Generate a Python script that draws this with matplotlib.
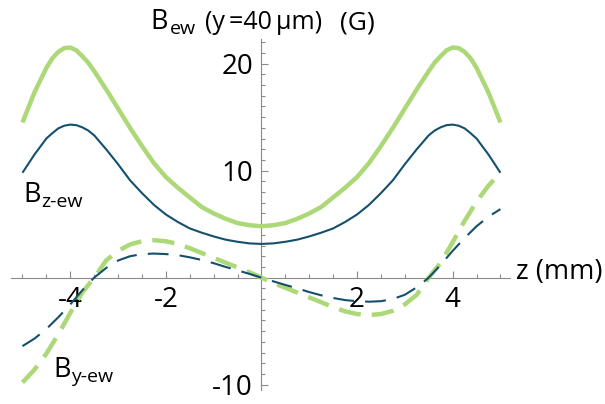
import matplotlib
matplotlib.use("Agg")
import matplotlib.pyplot as plt
from matplotlib.ticker import FixedLocator, MultipleLocator, FixedFormatter

plt.rcParams['font.family'] = ['Open Sans', 'DejaVu Sans']
plt.rcParams['axes.unicode_minus'] = False
plt.rcParams['lines.scale_dashes'] = False

# ---- data ----
z = [-5.0, -4.75, -4.5, -4.375, -4.25, -4.125, -4.0, -3.875, -3.75, -3.625, -3.5,
     -3.25, -3.0, -2.75, -2.5, -2.25, -2.0, -1.75, -1.5, -1.25, -1.0, -0.75,
     -0.5, -0.25, 0.0, 0.25, 0.5, 0.75, 1.0, 1.25, 1.5, 1.75, 2.0, 2.25, 2.5,
     2.75, 3.0, 3.25, 3.5, 3.625, 3.75, 3.875, 4.0, 4.125, 4.25, 4.375, 4.5, 4.75, 5.0]

b_total_green = [14.5, 17.3, 19.6, 20.5, 21.1, 21.45, 21.5, 21.25, 20.7, 20.1, 19.3,
                 17.6, 15.8, 14.0, 12.3, 10.7, 9.4, 8.4, 7.5, 6.6, 6.0, 5.5,
                 5.1, 4.9, 4.8, 4.9, 5.1, 5.5, 6.0, 6.6, 7.5, 8.4, 9.4, 10.7, 12.3,
                 14.0, 15.8, 17.6, 19.3, 20.1, 20.7, 21.25, 21.5, 21.45, 21.1, 20.5, 19.6, 17.3, 14.5]

b_z_blue = [9.8, 11.5, 13.0, 13.5, 13.95, 14.2, 14.3, 14.25, 14.05, 13.75, 13.3,
            12.0, 10.6, 9.1, 7.9, 6.8, 5.9, 5.2, 4.6, 4.2, 3.85, 3.55,
            3.35, 3.2, 3.15, 3.2, 3.35, 3.55, 3.85, 4.2, 4.6, 5.2, 5.9, 6.8, 7.9,
            9.1, 10.6, 12.0, 13.3, 13.75, 14.05, 14.25, 14.3, 14.2, 13.95, 13.5, 13.0, 11.5, 9.8]

b_y_green = [-9.8, -8.6, -7.1, -6.2, -5.3, -4.3, -3.3, -2.35, -1.4, -0.7, 0.0,
             1.6, 2.5, 3.1, 3.4, 3.5, 3.4, 3.15, 2.75, 2.3, 1.85, 1.4,
             0.95, 0.5, 0.0, -0.5, -0.95, -1.4, -1.85, -2.3, -2.75, -3.15, -3.4, -3.5, -3.4,
             -3.1, -2.5, -1.6, 0.0, 0.7, 1.4, 2.35, 3.3, 4.3, 5.3, 6.2, 7.1, 8.6, 9.8]

b_y_blue = [-6.4, -5.7, -4.8, -4.25, -3.7, -3.1, -2.5, -1.85, -1.2, -0.6, 0.0,
            0.9, 1.6, 2.0, 2.2, 2.25, 2.2, 2.1, 1.9, 1.65, 1.35, 1.0,
            0.68, 0.35, 0.0, -0.35, -0.68, -1.0, -1.35, -1.65, -1.9, -2.1, -2.2, -2.25, -2.2,
            -2.0, -1.6, -0.9, 0.0, 0.6, 1.2, 1.85, 2.5, 3.1, 3.7, 4.25, 4.8, 5.7, 6.4]

x_tick_vals = [-4, -2, 2, 4]
x_tick_labels = ['-4', '-2', '2', '4']
y_tick_vals = [-10, 10, 20]
y_tick_labels = ['-10', '10', '20']

GREEN = '#acd877'
BLUE = '#14506d'
AXIS = '#8a8a8a'

fig = plt.figure(figsize=(6.05, 4.04), dpi=100)
ax = fig.add_axes([11 / 605, 1 - 390 / 404, 499 / 605, 351 / 404])
ax.set_xlim(-5.24, 5.2)
ax.set_ylim(-10.5, 22.3)

ax.plot(z, b_total_green, color=GREEN, lw=3.2, solid_capstyle='butt',
        solid_joinstyle='round', zorder=3)
ax.plot(z, b_z_blue, color=BLUE, lw=1.5, solid_capstyle='butt',
        solid_joinstyle='round', zorder=4)
ax.plot(z, b_y_green, color=GREEN, lw=3.2, dashes=(16, 8),
        dash_joinstyle='round', zorder=3)
ax.plot(z, b_y_blue, color=BLUE, lw=1.5, dashes=(15, 8),
        dash_joinstyle='round', zorder=4)

for s in ['top', 'right']:
    ax.spines[s].set_visible(False)
ax.spines['left'].set_position(('data', 0))
ax.spines['bottom'].set_position(('data', 0))
for s in ['left', 'bottom']:
    ax.spines[s].set_color(AXIS)
    ax.spines[s].set_linewidth(0.8)

ax.xaxis.set_major_locator(FixedLocator(x_tick_vals))
ax.xaxis.set_major_formatter(FixedFormatter(x_tick_labels))
ax.xaxis.set_minor_locator(MultipleLocator(0.5))
ax.yaxis.set_major_locator(FixedLocator(y_tick_vals))
ax.yaxis.set_major_formatter(FixedFormatter(y_tick_labels))
ax.yaxis.set_minor_locator(MultipleLocator(1))

ax.tick_params(which='both', direction='in', color=AXIS, width=0.8)
ax.tick_params(which='major', length=5, labelsize=20)
ax.tick_params(which='minor', length=3)
ax.tick_params(axis='x', which='major', pad=6)
ax.tick_params(axis='y', which='major', pad=6)

# title
fig.text(150 / 605, 1 - 29 / 404, 'B', fontsize=19.5, va='baseline', ha='left')
fig.text(170 / 605, 1 - 34 / 404, 'ew', fontsize=14, va='baseline', ha='left')
fig.text(205 / 605, 1 - 29 / 404, '(y\u2009=40\u2009μm)', fontsize=18,
         va='baseline', ha='left')
fig.text(340 / 605, 1 - 29 / 404, '(G)', fontsize=19, va='baseline', ha='left')

# axis label
fig.text(516 / 605, 1 - 279 / 404, 'z (mm)', fontsize=19.5, va='baseline', ha='left')

# curve labels
fig.text(23 / 605, 1 - 202 / 404, 'B', fontsize=19.5, va='baseline', ha='left')
fig.text(41 / 605, 1 - 207 / 404, 'z-ew', fontsize=14, va='baseline', ha='left')
fig.text(53 / 605, 1 - 377 / 404, 'B', fontsize=19.5, va='baseline', ha='left')
fig.text(71 / 605, 1 - 382 / 404, 'y-ew', fontsize=14, va='baseline', ha='left')

fig.savefig('out.png', dpi=100)
